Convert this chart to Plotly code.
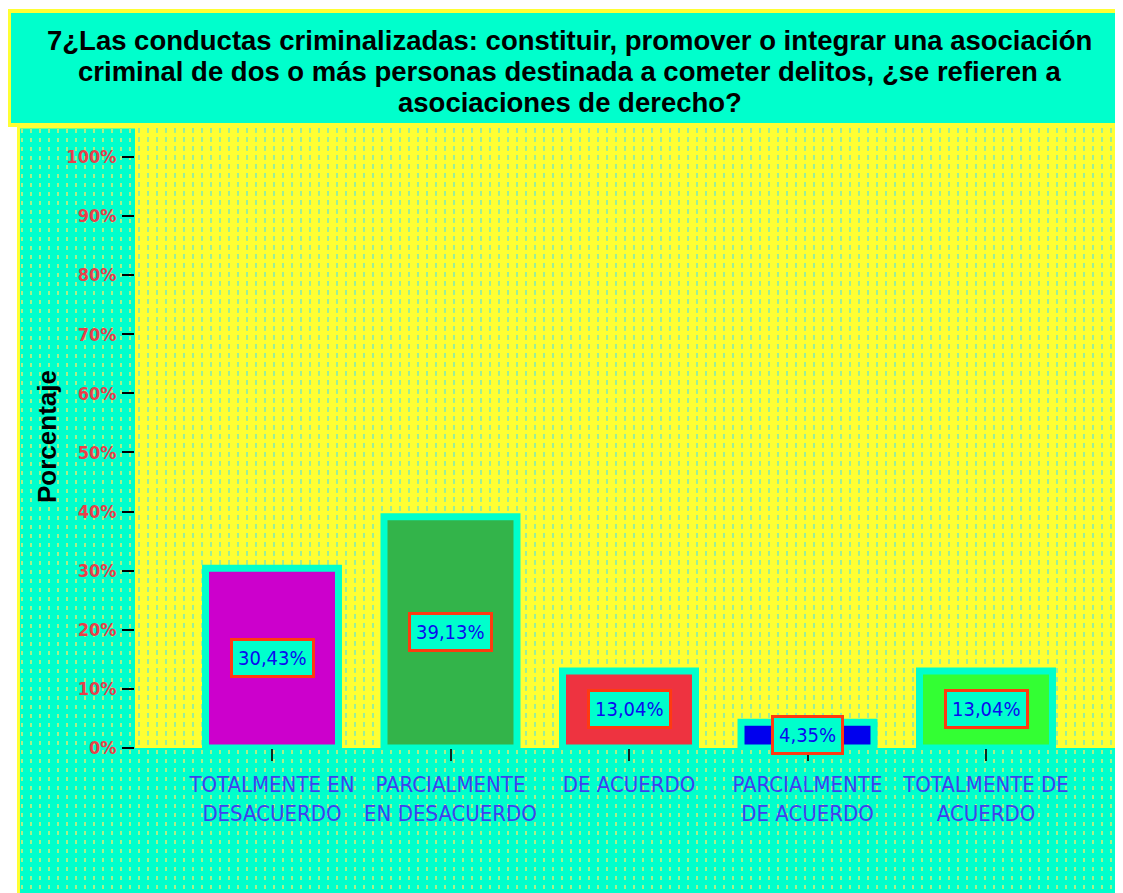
import plotly.graph_objects as go

categories = ["TOTALMENTE EN<br>DESACUERDO", "PARCIALMENTE<br>EN DESACUERDO", "DE ACUERDO",
              "PARCIALMENTE<br>DE ACUERDO", "TOTALMENTE DE<br>ACUERDO"]
values = [30.43, 39.13, 13.04, 4.35, 13.04]
value_labels = ["30,43%", "39,13%", "13,04%", "4,35%", "13,04%"]
bar_colors = ["#CC00CC", "#33B44A", "#EE3340", "#0000EE", "#33FF33"]
y_ticks = [0, 10, 20, 30, 40, 50, 60, 70, 80, 90, 100]
y_tick_labels = ["0%", "10%", "20%", "30%", "40%", "50%", "60%", "70%", "80%", "90%", "100%"]
title_lines = ["7¿Las conductas criminalizadas: constituir, promover o integrar una asociación",
               "criminal de dos o más personas destinada a cometer delitos, ¿se refieren a",
               "asociaciones de derecho?"]
y_title = "Porcentaje"

CYAN = "#00FFCC"
YELLOW = "#FFFF33"
NARROW = "DejaVu Sans Condensed, Liberation Sans Narrow, Liberation Sans, sans-serif"
SANS = "Liberation Sans, Arial, sans-serif"

W, H = 1115, 885
PL, PT, PB = 127, 120, 740   # plot area edges in figure pixels


def fx(x):
    return x / W


def fy(y):
    return 1 - y / H


fig = go.Figure()
# outer texture subplot (xy) - yellow dots on the cyan chart background
fig.add_trace(go.Scatter(x=[0, W], y=[0, 0], xaxis="x", yaxis="y", mode="markers",
                         marker=dict(opacity=0), hoverinfo="skip", showlegend=False))
# main bars (x2y2)
fig.add_trace(go.Bar(
    x=list(range(len(categories))), y=values, width=0.745, xaxis="x2", yaxis="y2",
    marker=dict(color=bar_colors, line=dict(color=CYAN, width=7)),
    hoverinfo="skip", showlegend=False,
))
# helper for green dotted texture inside plot area (x3 overlays x2)
fig.add_trace(go.Scatter(x=[0, W], y=[0, 0], xaxis="x3", yaxis="y2", mode="markers",
                         marker=dict(opacity=0), hoverinfo="skip", showlegend=False))

for i, (v, t) in enumerate(zip(values, value_labels)):
    fig.add_annotation(x=i, y=v / 2, xref="x2", yref="y2", text=t, showarrow=False,
                       font=dict(family=NARROW, size=20, color="#0A0AF0"),
                       bgcolor=CYAN, bordercolor="#FF3A10", borderwidth=3, borderpad=5)

# title box
fig.add_shape(type="rect", xref="paper", yref="paper", x0=fx(1), x1=fx(1118), y0=fy(3), y1=fy(117),
              fillcolor=CYAN, line=dict(color=YELLOW, width=4), layer="below")
# chart background
fig.add_shape(type="rect", xref="paper", yref="paper", x0=fx(10.5), x1=fx(1118), y0=fy(119), y1=fy(888),
              fillcolor=CYAN, line=dict(color=YELLOW, width=3), layer="below")
# plot area (drawn inside main subplot, above outer texture)
fig.add_shape(type="rect", xref="x2 domain", yref="y2 domain", x0=0, x1=1, y0=0, y1=1,
              fillcolor=YELLOW, line=dict(width=0), layer="below")

for line, yc in zip(title_lines, [32.5, 63.5, 94.5]):
    fig.add_annotation(xref="paper", yref="paper", x=fx(561.5), y=fy(yc), text="<b>" + line + "</b>",
                       showarrow=False, xanchor="center", yanchor="middle",
                       font=dict(family=SANS, size=27.5, color="black"))

fig.add_annotation(xref="paper", yref="paper", x=fx(39), y=fy(429), text="<b>" + y_title + "</b>",
                   textangle=-90, showarrow=False, xanchor="center", yanchor="middle",
                   font=dict(family=SANS, size=26, color="black"))

fig.update_layout(
    width=W, height=H, margin=dict(l=0, r=0, t=0, b=0, pad=0, autoexpand=False),
    paper_bgcolor="white", plot_bgcolor="rgba(0,0,0,0)",
    xaxis=dict(domain=[fx(12), 1], range=[12, W], showticklabels=False, ticks="", showgrid=True,
               dtick=9, tick0=14, gridcolor="#A6F08C", gridwidth=1.6, griddash="4px,5px",
               zeroline=False, showline=False, fixedrange=True, automargin=False),
    yaxis=dict(domain=[0, fy(121)], range=[0, 1], showticklabels=False, ticks="", showgrid=False,
               zeroline=False, showline=False, fixedrange=True, automargin=False),
    xaxis2=dict(domain=[fx(PL), 1], anchor="y2", range=[-0.7675, 4.7675],
                tickvals=list(range(len(categories))), ticktext=categories,
                tickangle=0, automargin=False, showgrid=False, zeroline=False, showline=False,
                ticks="outside", ticklen=12, tickwidth=2, tickcolor="#0B2B20", ticklabelstandoff=5,
                tickfont=dict(family=NARROW, size=22, color="#3F3FEF"), fixedrange=True),
    xaxis3=dict(range=[PL, W], overlaying="x2", anchor="y2", side="bottom", showticklabels=False,
                ticks="", showgrid=True, dtick=9, tick0=14, gridcolor="#9CEE98", gridwidth=1.6,
                griddash="4px,5px", zeroline=False, showline=False, fixedrange=True,
                automargin=False, layer="below traces"),
    yaxis2=dict(domain=[fy(PB), fy(PT)], anchor="x2", range=[0, 104.9], tickvals=y_ticks,
                ticktext=y_tick_labels, showgrid=False, zeroline=False, showline=False,
                ticks="outside", ticklen=12, tickwidth=2, tickcolor="black", automargin=False,
                ticklabelstandoff=2,
                tickfont=dict(family=NARROW, size=18, color="#E8404A", weight="bold"),
                fixedrange=True),
)

fig.write_html("out.html")
